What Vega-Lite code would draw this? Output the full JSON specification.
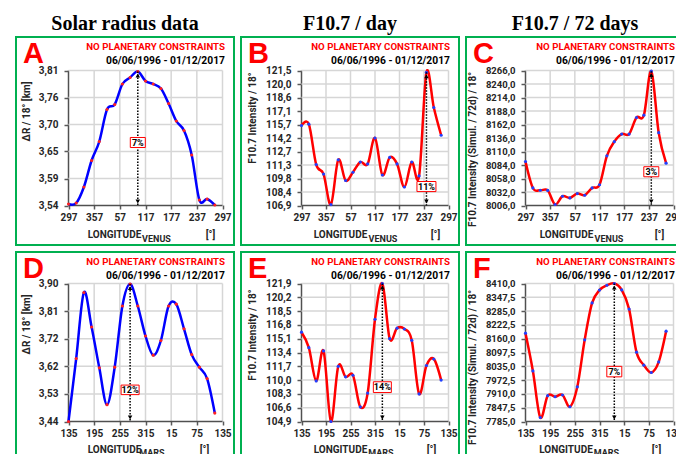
{
"$schema": "https://vega.github.io/schema/vega-lite/v6.json",
"padding": {"left": 15, "top": 14, "right": 0, "bottom": 0},
"background": "white",
"spacing": 5,
"config": {
 "view": {"stroke": "#00b050", "strokeWidth": 2, "fill": "white"},
 "concat": {"spacing": 5},
 "axis": {"labelFont": "Roboto", "labelFontWeight": "bold", "labelFontSize": 10, "labelColor": "#262626", "titleFont": "Roboto", "titleFontWeight": "bold", "titleFontSize": 10, "titleColor": "#262626", "grid": false, "domain": false, "tickColor": "#595959", "tickWidth": 1.5, "tickSize": 4, "labelOverlap": false, "labelFlush": false},
 "axisX": {"labelPadding": 3},
 "axisY": {"labelPadding": 6}
},
"datasets": {
 "A": [{"lon":297,"v":3.543},{"lon":315,"v":3.545},{"lon":333,"v":3.577},{"lon":351,"v":3.63},{"lon":369,"v":3.668},{"lon":387,"v":3.732},{"lon":405,"v":3.742},{"lon":423,"v":3.783},{"lon":441,"v":3.796},{"lon":459,"v":3.808},{"lon":477,"v":3.789},{"lon":495,"v":3.783},{"lon":513,"v":3.774},{"lon":531,"v":3.744},{"lon":549,"v":3.709},{"lon":567,"v":3.69},{"lon":585,"v":3.641},{"lon":603,"v":3.551},{"lon":621,"v":3.553},{"lon":639,"v":3.541}],
 "B": [{"lon":297,"v":115.55},{"lon":315,"v":115.7},{"lon":333,"v":111.33},{"lon":351,"v":110.3},{"lon":369,"v":107.0},{"lon":387,"v":111.84},{"lon":405,"v":109.6},{"lon":423,"v":110.5},{"lon":441,"v":111.6},{"lon":459,"v":111.4},{"lon":477,"v":114.2},{"lon":495,"v":110.2},{"lon":513,"v":112.1},{"lon":531,"v":111.4},{"lon":549,"v":108.9},{"lon":567,"v":111.6},{"lon":585,"v":110.1},{"lon":603,"v":121.3},{"lon":621,"v":117.5},{"lon":639,"v":114.5}],
 "C": [{"lon":297,"v":8090.8},{"lon":315,"v":8039.8},{"lon":333,"v":8035.3},{"lon":351,"v":8035},{"lon":369,"v":8008},{"lon":387,"v":8023.8},{"lon":405,"v":8020.6},{"lon":423,"v":8029},{"lon":441,"v":8025.8},{"lon":459,"v":8039.8},{"lon":477,"v":8046},{"lon":495,"v":8101.7},{"lon":513,"v":8129},{"lon":531,"v":8143.6},{"lon":549,"v":8143.6},{"lon":567,"v":8175.5},{"lon":585,"v":8180},{"lon":603,"v":8264.7},{"lon":621,"v":8146.2},{"lon":639,"v":8087.6}],
 "D": [{"lon":135,"v":3.44},{"lon":153,"v":3.65},{"lon":171,"v":3.87},{"lon":189,"v":3.755},{"lon":207,"v":3.619},{"lon":225,"v":3.496},{"lon":243,"v":3.621},{"lon":261,"v":3.825},{"lon":279,"v":3.898},{"lon":297,"v":3.825},{"lon":315,"v":3.725},{"lon":333,"v":3.661},{"lon":351,"v":3.71},{"lon":369,"v":3.825},{"lon":387,"v":3.831},{"lon":405,"v":3.749},{"lon":423,"v":3.663},{"lon":441,"v":3.621},{"lon":459,"v":3.583},{"lon":477,"v":3.468}],
 "E": [{"lon":135,"v":115.9},{"lon":153,"v":114.0},{"lon":171,"v":109.9},{"lon":189,"v":113.6},{"lon":207,"v":104.9},{"lon":225,"v":111.7},{"lon":243,"v":110.4},{"lon":261,"v":110.6},{"lon":279,"v":106.7},{"lon":297,"v":108.4},{"lon":315,"v":117.5},{"lon":333,"v":121.9},{"lon":351,"v":115.1},{"lon":369,"v":116.4},{"lon":387,"v":116.3},{"lon":405,"v":114.9},{"lon":423,"v":108.3},{"lon":441,"v":111.8},{"lon":459,"v":112.6},{"lon":477,"v":110.0}],
 "F": [{"lon":135,"v":8185},{"lon":153,"v":8014},{"lon":171,"v":7803},{"lon":189,"v":7902},{"lon":207,"v":7897},{"lon":225,"v":7905},{"lon":243,"v":7852},{"lon":261,"v":7942},{"lon":279,"v":8155},{"lon":297,"v":8322},{"lon":315,"v":8380},{"lon":333,"v":8402},{"lon":351,"v":8410},{"lon":369,"v":8381},{"lon":387,"v":8294},{"lon":405,"v":8099},{"lon":423,"v":8040},{"lon":441,"v":8007},{"lon":459,"v":8055},{"lon":477,"v":8194}],
 "annA": [{"lon":459,"peak":3.808,"base":3.54,"pct":"7%","py":3.666}],
 "annB": [{"lon":603,"peak":121.3,"base":106.9,"pct":"11%","py":108.95}],
 "annC": [{"lon":603,"peak":8264.7,"base":8006,"pct":"3%","py":8071}],
 "annD": [{"lon":279,"peak":3.898,"base":3.44,"pct":"12%","py":3.5455}],
 "annE": [{"lon":333,"peak":121.9,"base":104.9,"pct":"14%","py":109.13}],
 "annF": [{"lon":351,"peak":8410,"base":7785,"pct":"7%","py":8011}],
 "gxV": [{"t":297},{"t":357},{"t":417},{"t":477},{"t":537},{"t":597},{"t":657}],
 "gxM": [{"t":135},{"t":195},{"t":255},{"t":315},{"t":375},{"t":435},{"t":495}],
 "gyA": [{"t":3.54},{"t":3.594},{"t":3.648},{"t":3.702},{"t":3.756},{"t":3.81}],
 "gyB": [{"t":106.9},{"t":108.36},{"t":109.82},{"t":111.28},{"t":112.74},{"t":114.2},{"t":115.66},{"t":117.12},{"t":118.58},{"t":120.04},{"t":121.5}],
 "gyC": [{"t":8006},{"t":8032},{"t":8058},{"t":8084},{"t":8110},{"t":8136},{"t":8162},{"t":8188},{"t":8214},{"t":8240},{"t":8266}],
 "gyD": [{"t":3.44},{"t":3.532},{"t":3.624},{"t":3.716},{"t":3.808},{"t":3.9}],
 "gyE": [{"t":104.9},{"t":106.6},{"t":108.3},{"t":110},{"t":111.7},{"t":113.4},{"t":115.1},{"t":116.8},{"t":118.5},{"t":120.2},{"t":121.9}],
 "gyF": [{"t":7785},{"t":7847.5},{"t":7910},{"t":7972.5},{"t":8035},{"t":8097.5},{"t":8160},{"t":8222.5},{"t":8285},{"t":8347.5},{"t":8410}]
},
"hconcat": [
{"title": {"text": "Solar radius data", "font": "Liberation Serif", "fontSize": 20, "fontWeight": "bold", "color": "#000000", "anchor": "middle", "offset": 2},
 "spacing": 5,
 "vconcat": [
 {"title": {"text": "A", "anchor": "start", "dx": 8, "offset": -33, "font": "Liberation Sans", "fontSize": 29, "fontWeight": "bold", "color": "#ff0000"},
  "vconcat": [
  {"width": 218, "height": 208,
   "title": {"text": "NO PLANETARY CONSTRAINTS", "subtitle": "06/06/1996 - 01/12/2017", "anchor": "end", "dx": -9, "offset": -29, "subtitlePadding": 4, "font": "Roboto", "fontSize": 9.7, "fontWeight": "bold", "color": "#ff0000", "subtitleFont": "Roboto", "subtitleFontSize": 10.3, "subtitleFontWeight": "bold", "subtitleColor": "#000000"},
   "resolve": {"axis": {"x": "independent", "y": "independent"}},
   "layer": [
    {"data": {"name": "gxV"}, "mark": {"type": "rule", "strokeWidth": 1.5},
     "encoding": {
      "x": {"field": "t", "type": "quantitative", "scale": {"domain": [297, 657], "range": [52.5, 206.5], "nice": false, "zero": false}, "axis": null},
      "y": {"datum": 3.54, "type": "quantitative", "scale": {"domain": [3.54, 3.81], "range": [168.5, 33.5], "nice": false, "zero": false}, "axis": null},
      "y2": {"datum": 3.81},
      "color": {"condition": {"test": "datum.t == 297", "value": "#505050"}, "value": "#d6d6d6"}}},
    {"data": {"name": "gyA"}, "mark": {"type": "rule", "strokeWidth": 1.5},
     "encoding": {
      "y": {"field": "t", "type": "quantitative", "scale": {"domain": [3.54, 3.81], "range": [168.5, 33.5], "nice": false, "zero": false}, "axis": null},
      "x": {"datum": 297, "type": "quantitative", "scale": {"domain": [297, 657], "range": [52.5, 206.5], "nice": false, "zero": false}, "axis": null},
      "x2": {"datum": 657},
      "color": {"condition": {"test": "datum.t == 3.54", "value": "#505050"}, "value": "#d6d6d6"}}},
    {"data": {"name": "A"}, "mark": {"type": "line", "interpolate": "cardinal", "color": "#0000ff", "strokeWidth": 2.5},
     "encoding": {
      "x": {"field": "lon", "type": "quantitative", "scale": {"domain": [297, 657], "range": [52.5, 206.5], "nice": false, "zero": false},
            "axis": {"orient": "bottom", "offset": -40, "values": [297, 357, 417, 477, 537, 597, 657], "labelExpr": "'' + (datum.value % 360)", "title": "LONGITUDE", "titleX": 98, "titleY": 32.5, "titleBaseline": "alphabetic", "titleAlign": "center"}},
      "y": {"field": "v", "type": "quantitative", "scale": {"domain": [3.54, 3.81], "range": [168.5, 33.5], "nice": false, "zero": false},
            "axis": {"orient": "left", "offset": -52, "values": [3.54, 3.594, 3.648, 3.702, 3.756, 3.81], "labelExpr": "replace(format(datum.value, '.2f'), '.', ',')", "title": "ΔR / 18°  [km]", "titleX": -37, "titleY": 74, "titleAngle": -90, "titleBaseline": "bottom", "titleAlign": "center"}}}},
    {"data": {"name": "A"}, "mark": {"type": "circle", "size": 10, "color": "#ff2020", "opacity": 1},
     "encoding": {
      "x": {"field": "lon", "type": "quantitative", "scale": {"domain": [297, 657], "range": [52.5, 206.5], "nice": false, "zero": false},
            "axis": {"orient": "bottom", "offset": -40, "labels": false, "ticks": false, "title": "VENUS", "titleX": 140, "titleY": 36, "titleFontSize": 9, "titleBaseline": "alphabetic", "titleAlign": "center"}},
      "y": {"field": "v", "type": "quantitative", "scale": {"domain": [3.54, 3.81], "range": [168.5, 33.5], "nice": false, "zero": false}, "axis": null}}},
    {"data": {"name": "annA"}, "mark": {"type": "rule", "strokeDash": [1.5, 1.5], "strokeWidth": 1.5, "color": "#000000"},
     "encoding": {
      "x": {"field": "lon", "type": "quantitative", "scale": {"domain": [297, 657], "range": [52.5, 206.5], "nice": false, "zero": false},
            "axis": {"orient": "bottom", "offset": -40, "labels": false, "ticks": false, "title": "[°]", "titleX": 194, "titleY": 32.5, "titleBaseline": "alphabetic", "titleAlign": "center"}},
      "y": {"field": "peak", "type": "quantitative", "scale": {"domain": [3.54, 3.81], "range": [168.5, 33.5], "nice": false, "zero": false}, "axis": null},
      "y2": {"field": "base"}}},
    {"data": {"name": "annA"}, "mark": {"type": "point", "shape": "triangle-up", "filled": true, "size": 20, "color": "#000000", "opacity": 1, "yOffset": 4},
     "encoding": {
      "x": {"field": "lon", "type": "quantitative", "scale": {"domain": [297, 657], "range": [52.5, 206.5], "nice": false, "zero": false}, "axis": null},
      "y": {"field": "peak", "type": "quantitative", "scale": {"domain": [3.54, 3.81], "range": [168.5, 33.5], "nice": false, "zero": false}, "axis": null}}},
    {"data": {"name": "annA"}, "mark": {"type": "point", "shape": "triangle-down", "filled": true, "size": 20, "color": "#000000", "opacity": 1, "yOffset": -4},
     "encoding": {
      "x": {"field": "lon", "type": "quantitative", "scale": {"domain": [297, 657], "range": [52.5, 206.5], "nice": false, "zero": false}, "axis": null},
      "y": {"field": "base", "type": "quantitative", "scale": {"domain": [3.54, 3.81], "range": [168.5, 33.5], "nice": false, "zero": false}, "axis": null}}},
    {"data": {"name": "annA"}, "mark": {"type": "point", "shape": "M-1,-0.67H1V0.67H-1Z", "size": 225, "filled": true, "fill": "#ffffff", "stroke": "#ff0000", "strokeWidth": 1, "opacity": 1},
     "encoding": {
      "x": {"field": "lon", "type": "quantitative", "scale": {"domain": [297, 657], "range": [52.5, 206.5], "nice": false, "zero": false}, "axis": null},
      "y": {"field": "py", "type": "quantitative", "scale": {"domain": [3.54, 3.81], "range": [168.5, 33.5], "nice": false, "zero": false}, "axis": null}}},
    {"data": {"name": "annA"}, "mark": {"type": "text", "font": "Roboto", "fontWeight": "bold", "fontSize": 9, "color": "#000000", "baseline": "middle", "align": "center"},
     "encoding": {
      "x": {"field": "lon", "type": "quantitative", "scale": {"domain": [297, 657], "range": [52.5, 206.5], "nice": false, "zero": false}, "axis": null},
      "y": {"field": "py", "type": "quantitative", "scale": {"domain": [3.54, 3.81], "range": [168.5, 33.5], "nice": false, "zero": false}, "axis": null},
      "text": {"field": "pct"}}}
   ]}
  ]},
 {"title": {"text": "D", "anchor": "start", "dx": 8, "offset": -33, "font": "Liberation Sans", "fontSize": 29, "fontWeight": "bold", "color": "#ff0000"},
  "vconcat": [
  {"width": 218, "height": 208,
   "title": {"text": "NO PLANETARY CONSTRAINTS", "subtitle": "06/06/1996 - 01/12/2017", "anchor": "end", "dx": -9, "offset": -29, "subtitlePadding": 4, "font": "Roboto", "fontSize": 9.7, "fontWeight": "bold", "color": "#ff0000", "subtitleFont": "Roboto", "subtitleFontSize": 10.3, "subtitleFontWeight": "bold", "subtitleColor": "#000000"},
   "resolve": {"axis": {"x": "independent", "y": "independent"}},
   "layer": [
    {"data": {"name": "gxM"}, "mark": {"type": "rule", "strokeWidth": 1.5},
     "encoding": {
      "x": {"field": "t", "type": "quantitative", "scale": {"domain": [135, 495], "range": [52.5, 206.5], "nice": false, "zero": false}, "axis": null},
      "y": {"datum": 3.44, "type": "quantitative", "scale": {"domain": [3.44, 3.9], "range": [169.5, 31.5], "nice": false, "zero": false}, "axis": null},
      "y2": {"datum": 3.9},
      "color": {"condition": {"test": "datum.t == 135", "value": "#505050"}, "value": "#d6d6d6"}}},
    {"data": {"name": "gyD"}, "mark": {"type": "rule", "strokeWidth": 1.5},
     "encoding": {
      "y": {"field": "t", "type": "quantitative", "scale": {"domain": [3.44, 3.9], "range": [169.5, 31.5], "nice": false, "zero": false}, "axis": null},
      "x": {"datum": 135, "type": "quantitative", "scale": {"domain": [135, 495], "range": [52.5, 206.5], "nice": false, "zero": false}, "axis": null},
      "x2": {"datum": 495},
      "color": {"condition": {"test": "datum.t == 3.44", "value": "#505050"}, "value": "#d6d6d6"}}},
    {"data": {"name": "D"}, "mark": {"type": "line", "interpolate": "cardinal", "color": "#0000ff", "strokeWidth": 2.5},
     "encoding": {
      "x": {"field": "lon", "type": "quantitative", "scale": {"domain": [135, 495], "range": [52.5, 206.5], "nice": false, "zero": false},
            "axis": {"orient": "bottom", "offset": -39, "values": [135, 195, 255, 315, 375, 435, 495], "labelExpr": "'' + (datum.value % 360)", "title": "LONGITUDE", "titleX": 98, "titleY": 31, "titleBaseline": "alphabetic", "titleAlign": "center"}},
      "y": {"field": "v", "type": "quantitative", "scale": {"domain": [3.44, 3.9], "range": [169.5, 31.5], "nice": false, "zero": false},
            "axis": {"orient": "left", "offset": -52, "values": [3.44, 3.532, 3.624, 3.716, 3.808, 3.9], "labelExpr": "replace(format(datum.value, '.2f'), '.', ',')", "title": "ΔR / 18°  [km]", "titleX": -37, "titleY": 72, "titleAngle": -90, "titleBaseline": "bottom", "titleAlign": "center"}}}},
    {"data": {"name": "D"}, "mark": {"type": "circle", "size": 10, "color": "#ff2020", "opacity": 1},
     "encoding": {
      "x": {"field": "lon", "type": "quantitative", "scale": {"domain": [135, 495], "range": [52.5, 206.5], "nice": false, "zero": false},
            "axis": {"orient": "bottom", "offset": -39, "labels": false, "ticks": false, "title": "MARS", "titleX": 135.5, "titleY": 34.5, "titleFontSize": 9, "titleBaseline": "alphabetic", "titleAlign": "center"}},
      "y": {"field": "v", "type": "quantitative", "scale": {"domain": [3.44, 3.9], "range": [169.5, 31.5], "nice": false, "zero": false}, "axis": null}}},
    {"data": {"name": "annD"}, "mark": {"type": "rule", "strokeDash": [1.5, 1.5], "strokeWidth": 1.5, "color": "#000000"},
     "encoding": {
      "x": {"field": "lon", "type": "quantitative", "scale": {"domain": [135, 495], "range": [52.5, 206.5], "nice": false, "zero": false},
            "axis": {"orient": "bottom", "offset": -39, "labels": false, "ticks": false, "title": "[°]", "titleX": 188, "titleY": 31, "titleBaseline": "alphabetic", "titleAlign": "center"}},
      "y": {"field": "peak", "type": "quantitative", "scale": {"domain": [3.44, 3.9], "range": [169.5, 31.5], "nice": false, "zero": false}, "axis": null},
      "y2": {"field": "base"}}},
    {"data": {"name": "annD"}, "mark": {"type": "point", "shape": "triangle-up", "filled": true, "size": 20, "color": "#000000", "opacity": 1, "yOffset": 4},
     "encoding": {
      "x": {"field": "lon", "type": "quantitative", "scale": {"domain": [135, 495], "range": [52.5, 206.5], "nice": false, "zero": false}, "axis": null},
      "y": {"field": "peak", "type": "quantitative", "scale": {"domain": [3.44, 3.9], "range": [169.5, 31.5], "nice": false, "zero": false}, "axis": null}}},
    {"data": {"name": "annD"}, "mark": {"type": "point", "shape": "triangle-down", "filled": true, "size": 20, "color": "#000000", "opacity": 1, "yOffset": -4},
     "encoding": {
      "x": {"field": "lon", "type": "quantitative", "scale": {"domain": [135, 495], "range": [52.5, 206.5], "nice": false, "zero": false}, "axis": null},
      "y": {"field": "base", "type": "quantitative", "scale": {"domain": [3.44, 3.9], "range": [169.5, 31.5], "nice": false, "zero": false}, "axis": null}}},
    {"data": {"name": "annD"}, "mark": {"type": "point", "shape": "M-1,-0.53H1V0.53H-1Z", "size": 324, "filled": true, "fill": "#ffffff", "stroke": "#ff0000", "strokeWidth": 1, "opacity": 1},
     "encoding": {
      "x": {"field": "lon", "type": "quantitative", "scale": {"domain": [135, 495], "range": [52.5, 206.5], "nice": false, "zero": false}, "axis": null},
      "y": {"field": "py", "type": "quantitative", "scale": {"domain": [3.44, 3.9], "range": [169.5, 31.5], "nice": false, "zero": false}, "axis": null}}},
    {"data": {"name": "annD"}, "mark": {"type": "text", "font": "Roboto", "fontWeight": "bold", "fontSize": 9, "color": "#000000", "baseline": "middle", "align": "center"},
     "encoding": {
      "x": {"field": "lon", "type": "quantitative", "scale": {"domain": [135, 495], "range": [52.5, 206.5], "nice": false, "zero": false}, "axis": null},
      "y": {"field": "py", "type": "quantitative", "scale": {"domain": [3.44, 3.9], "range": [169.5, 31.5], "nice": false, "zero": false}, "axis": null},
      "text": {"field": "pct"}}}
   ]}
  ]}
 ]},
{"title": {"text": "F10.7 / day", "font": "Liberation Serif", "fontSize": 20, "fontWeight": "bold", "color": "#000000", "anchor": "middle", "offset": 2},
 "spacing": 5,
 "vconcat": [
 {"title": {"text": "B", "anchor": "start", "dx": 8, "offset": -33, "font": "Liberation Sans", "fontSize": 29, "fontWeight": "bold", "color": "#ff0000"},
  "vconcat": [
  {"width": 218, "height": 208,
   "title": {"text": "NO PLANETARY CONSTRAINTS", "subtitle": "06/06/1996 - 01/12/2017", "anchor": "end", "dx": -9, "offset": -29, "subtitlePadding": 4, "font": "Roboto", "fontSize": 9.7, "fontWeight": "bold", "color": "#ff0000", "subtitleFont": "Roboto", "subtitleFontSize": 10.3, "subtitleFontWeight": "bold", "subtitleColor": "#000000"},
   "resolve": {"axis": {"x": "independent", "y": "independent"}},
   "layer": [
    {"data": {"name": "gxV"}, "mark": {"type": "rule", "strokeWidth": 1.5},
     "encoding": {
      "x": {"field": "t", "type": "quantitative", "scale": {"domain": [297, 657], "range": [60.5, 207.5], "nice": false, "zero": false}, "axis": null},
      "y": {"datum": 106.9, "type": "quantitative", "scale": {"domain": [106.9, 121.5], "range": [168.5, 33.5], "nice": false, "zero": false}, "axis": null},
      "y2": {"datum": 121.5},
      "color": {"condition": {"test": "datum.t == 297", "value": "#505050"}, "value": "#d6d6d6"}}},
    {"data": {"name": "gyB"}, "mark": {"type": "rule", "strokeWidth": 1.5},
     "encoding": {
      "y": {"field": "t", "type": "quantitative", "scale": {"domain": [106.9, 121.5], "range": [168.5, 33.5], "nice": false, "zero": false}, "axis": null},
      "x": {"datum": 297, "type": "quantitative", "scale": {"domain": [297, 657], "range": [60.5, 207.5], "nice": false, "zero": false}, "axis": null},
      "x2": {"datum": 657},
      "color": {"condition": {"test": "datum.t == 106.9", "value": "#505050"}, "value": "#d6d6d6"}}},
    {"data": {"name": "B"}, "mark": {"type": "line", "interpolate": "cardinal", "color": "#ff0000", "strokeWidth": 2.5},
     "encoding": {
      "x": {"field": "lon", "type": "quantitative", "scale": {"domain": [297, 657], "range": [60.5, 207.5], "nice": false, "zero": false},
            "axis": {"orient": "bottom", "offset": -40, "values": [297, 357, 417, 477, 537, 597, 657], "labelExpr": "'' + (datum.value % 360)", "title": "LONGITUDE", "titleX": 99, "titleY": 32.5, "titleBaseline": "alphabetic", "titleAlign": "center"}},
      "y": {"field": "v", "type": "quantitative", "scale": {"domain": [106.9, 121.5], "range": [168.5, 33.5], "nice": false, "zero": false},
            "axis": {"orient": "left", "offset": -60, "values": [106.9, 108.36, 109.82, 111.28, 112.74, 114.2, 115.66, 117.12, 118.58, 120.04, 121.5], "labelExpr": "replace(format(datum.value, '.1f'), '.', ',')", "title": "F10.7 Intensity  / 18°", "titleX": -44, "titleY": 80.5, "titleAngle": -90, "titleBaseline": "bottom", "titleAlign": "center"}}}},
    {"data": {"name": "B"}, "mark": {"type": "circle", "size": 10, "color": "#2040ff", "opacity": 1},
     "encoding": {
      "x": {"field": "lon", "type": "quantitative", "scale": {"domain": [297, 657], "range": [60.5, 207.5], "nice": false, "zero": false},
            "axis": {"orient": "bottom", "offset": -40, "labels": false, "ticks": false, "title": "VENUS", "titleX": 141.5, "titleY": 36, "titleFontSize": 9, "titleBaseline": "alphabetic", "titleAlign": "center"}},
      "y": {"field": "v", "type": "quantitative", "scale": {"domain": [106.9, 121.5], "range": [168.5, 33.5], "nice": false, "zero": false}, "axis": null}}},
    {"data": {"name": "annB"}, "mark": {"type": "rule", "strokeDash": [1.5, 1.5], "strokeWidth": 1.5, "color": "#000000"},
     "encoding": {
      "x": {"field": "lon", "type": "quantitative", "scale": {"domain": [297, 657], "range": [60.5, 207.5], "nice": false, "zero": false},
            "axis": {"orient": "bottom", "offset": -40, "labels": false, "ticks": false, "title": "[°]", "titleX": 194, "titleY": 32.5, "titleBaseline": "alphabetic", "titleAlign": "center"}},
      "y": {"field": "peak", "type": "quantitative", "scale": {"domain": [106.9, 121.5], "range": [168.5, 33.5], "nice": false, "zero": false}, "axis": null},
      "y2": {"field": "base"}}},
    {"data": {"name": "annB"}, "mark": {"type": "point", "shape": "triangle-up", "filled": true, "size": 20, "color": "#000000", "opacity": 1, "yOffset": 4},
     "encoding": {
      "x": {"field": "lon", "type": "quantitative", "scale": {"domain": [297, 657], "range": [60.5, 207.5], "nice": false, "zero": false}, "axis": null},
      "y": {"field": "peak", "type": "quantitative", "scale": {"domain": [106.9, 121.5], "range": [168.5, 33.5], "nice": false, "zero": false}, "axis": null}}},
    {"data": {"name": "annB"}, "mark": {"type": "point", "shape": "triangle-down", "filled": true, "size": 20, "color": "#000000", "opacity": 1, "yOffset": -4},
     "encoding": {
      "x": {"field": "lon", "type": "quantitative", "scale": {"domain": [297, 657], "range": [60.5, 207.5], "nice": false, "zero": false}, "axis": null},
      "y": {"field": "base", "type": "quantitative", "scale": {"domain": [106.9, 121.5], "range": [168.5, 33.5], "nice": false, "zero": false}, "axis": null}}},
    {"data": {"name": "annB"}, "mark": {"type": "point", "shape": "M-1,-0.53H1V0.53H-1Z", "size": 361, "filled": true, "fill": "#ffffff", "stroke": "#ff0000", "strokeWidth": 1, "opacity": 1},
     "encoding": {
      "x": {"field": "lon", "type": "quantitative", "scale": {"domain": [297, 657], "range": [60.5, 207.5], "nice": false, "zero": false}, "axis": null},
      "y": {"field": "py", "type": "quantitative", "scale": {"domain": [106.9, 121.5], "range": [168.5, 33.5], "nice": false, "zero": false}, "axis": null}}},
    {"data": {"name": "annB"}, "mark": {"type": "text", "font": "Roboto", "fontWeight": "bold", "fontSize": 9, "color": "#000000", "baseline": "middle", "align": "center"},
     "encoding": {
      "x": {"field": "lon", "type": "quantitative", "scale": {"domain": [297, 657], "range": [60.5, 207.5], "nice": false, "zero": false}, "axis": null},
      "y": {"field": "py", "type": "quantitative", "scale": {"domain": [106.9, 121.5], "range": [168.5, 33.5], "nice": false, "zero": false}, "axis": null},
      "text": {"field": "pct"}}}
   ]}
  ]},
 {"title": {"text": "E", "anchor": "start", "dx": 8, "offset": -33, "font": "Liberation Sans", "fontSize": 29, "fontWeight": "bold", "color": "#ff0000"},
  "vconcat": [
  {"width": 218, "height": 208,
   "title": {"text": "NO PLANETARY CONSTRAINTS", "subtitle": "06/06/1996 - 01/12/2017", "anchor": "end", "dx": -9, "offset": -29, "subtitlePadding": 4, "font": "Roboto", "fontSize": 9.7, "fontWeight": "bold", "color": "#ff0000", "subtitleFont": "Roboto", "subtitleFontSize": 10.3, "subtitleFontWeight": "bold", "subtitleColor": "#000000"},
   "resolve": {"axis": {"x": "independent", "y": "independent"}},
   "layer": [
    {"data": {"name": "gxM"}, "mark": {"type": "rule", "strokeWidth": 1.5},
     "encoding": {
      "x": {"field": "t", "type": "quantitative", "scale": {"domain": [135, 495], "range": [60.5, 207.5], "nice": false, "zero": false}, "axis": null},
      "y": {"datum": 104.9, "type": "quantitative", "scale": {"domain": [104.9, 121.9], "range": [169.5, 31.5], "nice": false, "zero": false}, "axis": null},
      "y2": {"datum": 121.9},
      "color": {"condition": {"test": "datum.t == 135", "value": "#505050"}, "value": "#d6d6d6"}}},
    {"data": {"name": "gyE"}, "mark": {"type": "rule", "strokeWidth": 1.5},
     "encoding": {
      "y": {"field": "t", "type": "quantitative", "scale": {"domain": [104.9, 121.9], "range": [169.5, 31.5], "nice": false, "zero": false}, "axis": null},
      "x": {"datum": 135, "type": "quantitative", "scale": {"domain": [135, 495], "range": [60.5, 207.5], "nice": false, "zero": false}, "axis": null},
      "x2": {"datum": 495},
      "color": {"condition": {"test": "datum.t == 104.9", "value": "#505050"}, "value": "#d6d6d6"}}},
    {"data": {"name": "E"}, "mark": {"type": "line", "interpolate": "cardinal", "color": "#ff0000", "strokeWidth": 2.5},
     "encoding": {
      "x": {"field": "lon", "type": "quantitative", "scale": {"domain": [135, 495], "range": [60.5, 207.5], "nice": false, "zero": false},
            "axis": {"orient": "bottom", "offset": -39, "values": [135, 195, 255, 315, 375, 435, 495], "labelExpr": "'' + (datum.value % 360)", "title": "LONGITUDE", "titleX": 99, "titleY": 31, "titleBaseline": "alphabetic", "titleAlign": "center"}},
      "y": {"field": "v", "type": "quantitative", "scale": {"domain": [104.9, 121.9], "range": [169.5, 31.5], "nice": false, "zero": false},
            "axis": {"orient": "left", "offset": -60, "values": [104.9, 106.6, 108.3, 110, 111.7, 113.4, 115.1, 116.8, 118.5, 120.2, 121.9], "labelExpr": "replace(format(datum.value, '.1f'), '.', ',')", "title": "F10.7 Intensity  / 18°", "titleX": -44, "titleY": 82.5, "titleAngle": -90, "titleBaseline": "bottom", "titleAlign": "center"}}}},
    {"data": {"name": "E"}, "mark": {"type": "circle", "size": 10, "color": "#2040ff", "opacity": 1},
     "encoding": {
      "x": {"field": "lon", "type": "quantitative", "scale": {"domain": [135, 495], "range": [60.5, 207.5], "nice": false, "zero": false},
            "axis": {"orient": "bottom", "offset": -39, "labels": false, "ticks": false, "title": "MARS", "titleX": 139.5, "titleY": 34.5, "titleFontSize": 9, "titleBaseline": "alphabetic", "titleAlign": "center"}},
      "y": {"field": "v", "type": "quantitative", "scale": {"domain": [104.9, 121.9], "range": [169.5, 31.5], "nice": false, "zero": false}, "axis": null}}},
    {"data": {"name": "annE"}, "mark": {"type": "rule", "strokeDash": [1.5, 1.5], "strokeWidth": 1.5, "color": "#000000"},
     "encoding": {
      "x": {"field": "lon", "type": "quantitative", "scale": {"domain": [135, 495], "range": [60.5, 207.5], "nice": false, "zero": false},
            "axis": {"orient": "bottom", "offset": -39, "labels": false, "ticks": false, "title": "[°]", "titleX": 190, "titleY": 31, "titleBaseline": "alphabetic", "titleAlign": "center"}},
      "y": {"field": "peak", "type": "quantitative", "scale": {"domain": [104.9, 121.9], "range": [169.5, 31.5], "nice": false, "zero": false}, "axis": null},
      "y2": {"field": "base"}}},
    {"data": {"name": "annE"}, "mark": {"type": "point", "shape": "triangle-up", "filled": true, "size": 20, "color": "#000000", "opacity": 1, "yOffset": 4},
     "encoding": {
      "x": {"field": "lon", "type": "quantitative", "scale": {"domain": [135, 495], "range": [60.5, 207.5], "nice": false, "zero": false}, "axis": null},
      "y": {"field": "peak", "type": "quantitative", "scale": {"domain": [104.9, 121.9], "range": [169.5, 31.5], "nice": false, "zero": false}, "axis": null}}},
    {"data": {"name": "annE"}, "mark": {"type": "point", "shape": "triangle-down", "filled": true, "size": 20, "color": "#000000", "opacity": 1, "yOffset": -4},
     "encoding": {
      "x": {"field": "lon", "type": "quantitative", "scale": {"domain": [135, 495], "range": [60.5, 207.5], "nice": false, "zero": false}, "axis": null},
      "y": {"field": "base", "type": "quantitative", "scale": {"domain": [104.9, 121.9], "range": [169.5, 31.5], "nice": false, "zero": false}, "axis": null}}},
    {"data": {"name": "annE"}, "mark": {"type": "point", "shape": "M-1,-0.6H1V0.6H-1Z", "size": 324, "filled": true, "fill": "#ffffff", "stroke": "#ff0000", "strokeWidth": 1, "opacity": 1},
     "encoding": {
      "x": {"field": "lon", "type": "quantitative", "scale": {"domain": [135, 495], "range": [60.5, 207.5], "nice": false, "zero": false}, "axis": null},
      "y": {"field": "py", "type": "quantitative", "scale": {"domain": [104.9, 121.9], "range": [169.5, 31.5], "nice": false, "zero": false}, "axis": null}}},
    {"data": {"name": "annE"}, "mark": {"type": "text", "font": "Roboto", "fontWeight": "bold", "fontSize": 9, "color": "#000000", "baseline": "middle", "align": "center"},
     "encoding": {
      "x": {"field": "lon", "type": "quantitative", "scale": {"domain": [135, 495], "range": [60.5, 207.5], "nice": false, "zero": false}, "axis": null},
      "y": {"field": "py", "type": "quantitative", "scale": {"domain": [104.9, 121.9], "range": [169.5, 31.5], "nice": false, "zero": false}, "axis": null},
      "text": {"field": "pct"}}}
   ]}
  ]}
 ]},
{"title": {"text": "F10.7 / 72 days", "font": "Liberation Serif", "fontSize": 20, "fontWeight": "bold", "color": "#000000", "anchor": "middle", "offset": 2},
 "spacing": 5,
 "vconcat": [
 {"title": {"text": "C", "anchor": "start", "dx": 8, "offset": -33, "font": "Liberation Sans", "fontSize": 29, "fontWeight": "bold", "color": "#ff0000"},
  "vconcat": [
  {"width": 218, "height": 208,
   "title": {"text": "NO PLANETARY CONSTRAINTS", "subtitle": "06/06/1996 - 01/12/2017", "anchor": "end", "dx": -9, "offset": -29, "subtitlePadding": 4, "font": "Roboto", "fontSize": 9.7, "fontWeight": "bold", "color": "#ff0000", "subtitleFont": "Roboto", "subtitleFontSize": 10.3, "subtitleFontWeight": "bold", "subtitleColor": "#000000"},
   "resolve": {"axis": {"x": "independent", "y": "independent"}},
   "layer": [
    {"data": {"name": "gxV"}, "mark": {"type": "rule", "strokeWidth": 1.5},
     "encoding": {
      "x": {"field": "t", "type": "quantitative", "scale": {"domain": [297, 657], "range": [59.5, 207.5], "nice": false, "zero": false}, "axis": null},
      "y": {"datum": 8006, "type": "quantitative", "scale": {"domain": [8006, 8266], "range": [168.5, 33.5], "nice": false, "zero": false}, "axis": null},
      "y2": {"datum": 8266},
      "color": {"condition": {"test": "datum.t == 297", "value": "#505050"}, "value": "#d6d6d6"}}},
    {"data": {"name": "gyC"}, "mark": {"type": "rule", "strokeWidth": 1.5},
     "encoding": {
      "y": {"field": "t", "type": "quantitative", "scale": {"domain": [8006, 8266], "range": [168.5, 33.5], "nice": false, "zero": false}, "axis": null},
      "x": {"datum": 297, "type": "quantitative", "scale": {"domain": [297, 657], "range": [59.5, 207.5], "nice": false, "zero": false}, "axis": null},
      "x2": {"datum": 657},
      "color": {"condition": {"test": "datum.t == 8006", "value": "#505050"}, "value": "#d6d6d6"}}},
    {"data": {"name": "C"}, "mark": {"type": "line", "interpolate": "cardinal", "color": "#ff0000", "strokeWidth": 2.5},
     "encoding": {
      "x": {"field": "lon", "type": "quantitative", "scale": {"domain": [297, 657], "range": [59.5, 207.5], "nice": false, "zero": false},
            "axis": {"orient": "bottom", "offset": -40, "values": [297, 357, 417, 477, 537, 597, 657], "labelExpr": "'' + (datum.value % 360)", "title": "LONGITUDE", "titleX": 100, "titleY": 32.5, "titleBaseline": "alphabetic", "titleAlign": "center"}},
      "y": {"field": "v", "type": "quantitative", "scale": {"domain": [8006, 8266], "range": [168.5, 33.5], "nice": false, "zero": false},
            "axis": {"orient": "left", "offset": -59, "labelFontSize": 9.5, "values": [8006, 8032, 8058, 8084, 8110, 8136, 8162, 8188, 8214, 8240, 8266], "labelExpr": "replace(format(datum.value, '.1f'), '.', ',')", "title": "F10.7 Intensity  (Simul. / 72d) / 18°", "titleX": -48, "titleY": 112, "titleAngle": -90, "titleBaseline": "bottom", "titleAlign": "center"}}}},
    {"data": {"name": "C"}, "mark": {"type": "circle", "size": 10, "color": "#2040ff", "opacity": 1},
     "encoding": {
      "x": {"field": "lon", "type": "quantitative", "scale": {"domain": [297, 657], "range": [59.5, 207.5], "nice": false, "zero": false},
            "axis": {"orient": "bottom", "offset": -40, "labels": false, "ticks": false, "title": "VENUS", "titleX": 142.5, "titleY": 36, "titleFontSize": 9, "titleBaseline": "alphabetic", "titleAlign": "center"}},
      "y": {"field": "v", "type": "quantitative", "scale": {"domain": [8006, 8266], "range": [168.5, 33.5], "nice": false, "zero": false}, "axis": null}}},
    {"data": {"name": "annC"}, "mark": {"type": "rule", "strokeDash": [1.5, 1.5], "strokeWidth": 1.5, "color": "#000000"},
     "encoding": {
      "x": {"field": "lon", "type": "quantitative", "scale": {"domain": [297, 657], "range": [59.5, 207.5], "nice": false, "zero": false},
            "axis": {"orient": "bottom", "offset": -40, "labels": false, "ticks": false, "title": "[°]", "titleX": 193, "titleY": 32.5, "titleBaseline": "alphabetic", "titleAlign": "center"}},
      "y": {"field": "peak", "type": "quantitative", "scale": {"domain": [8006, 8266], "range": [168.5, 33.5], "nice": false, "zero": false}, "axis": null},
      "y2": {"field": "base"}}},
    {"data": {"name": "annC"}, "mark": {"type": "point", "shape": "triangle-up", "filled": true, "size": 20, "color": "#000000", "opacity": 1, "yOffset": 4},
     "encoding": {
      "x": {"field": "lon", "type": "quantitative", "scale": {"domain": [297, 657], "range": [59.5, 207.5], "nice": false, "zero": false}, "axis": null},
      "y": {"field": "peak", "type": "quantitative", "scale": {"domain": [8006, 8266], "range": [168.5, 33.5], "nice": false, "zero": false}, "axis": null}}},
    {"data": {"name": "annC"}, "mark": {"type": "point", "shape": "triangle-down", "filled": true, "size": 20, "color": "#000000", "opacity": 1, "yOffset": -4},
     "encoding": {
      "x": {"field": "lon", "type": "quantitative", "scale": {"domain": [297, 657], "range": [59.5, 207.5], "nice": false, "zero": false}, "axis": null},
      "y": {"field": "base", "type": "quantitative", "scale": {"domain": [8006, 8266], "range": [168.5, 33.5], "nice": false, "zero": false}, "axis": null}}},
    {"data": {"name": "annC"}, "mark": {"type": "point", "shape": "M-1,-0.67H1V0.67H-1Z", "size": 225, "filled": true, "fill": "#ffffff", "stroke": "#ff0000", "strokeWidth": 1, "opacity": 1},
     "encoding": {
      "x": {"field": "lon", "type": "quantitative", "scale": {"domain": [297, 657], "range": [59.5, 207.5], "nice": false, "zero": false}, "axis": null},
      "y": {"field": "py", "type": "quantitative", "scale": {"domain": [8006, 8266], "range": [168.5, 33.5], "nice": false, "zero": false}, "axis": null}}},
    {"data": {"name": "annC"}, "mark": {"type": "text", "font": "Roboto", "fontWeight": "bold", "fontSize": 9, "color": "#000000", "baseline": "middle", "align": "center"},
     "encoding": {
      "x": {"field": "lon", "type": "quantitative", "scale": {"domain": [297, 657], "range": [59.5, 207.5], "nice": false, "zero": false}, "axis": null},
      "y": {"field": "py", "type": "quantitative", "scale": {"domain": [8006, 8266], "range": [168.5, 33.5], "nice": false, "zero": false}, "axis": null},
      "text": {"field": "pct"}}}
   ]}
  ]},
 {"title": {"text": "F", "anchor": "start", "dx": 8, "offset": -33, "font": "Liberation Sans", "fontSize": 29, "fontWeight": "bold", "color": "#ff0000"},
  "vconcat": [
  {"width": 218, "height": 208,
   "title": {"text": "NO PLANETARY CONSTRAINTS", "subtitle": "06/06/1996 - 01/12/2017", "anchor": "end", "dx": -9, "offset": -29, "subtitlePadding": 4, "font": "Roboto", "fontSize": 9.7, "fontWeight": "bold", "color": "#ff0000", "subtitleFont": "Roboto", "subtitleFontSize": 10.3, "subtitleFontWeight": "bold", "subtitleColor": "#000000"},
   "resolve": {"axis": {"x": "independent", "y": "independent"}},
   "layer": [
    {"data": {"name": "gxM"}, "mark": {"type": "rule", "strokeWidth": 1.5},
     "encoding": {
      "x": {"field": "t", "type": "quantitative", "scale": {"domain": [135, 495], "range": [59.5, 207.5], "nice": false, "zero": false}, "axis": null},
      "y": {"datum": 7785, "type": "quantitative", "scale": {"domain": [7785, 8410], "range": [169.5, 31.5], "nice": false, "zero": false}, "axis": null},
      "y2": {"datum": 8410},
      "color": {"condition": {"test": "datum.t == 135", "value": "#505050"}, "value": "#d6d6d6"}}},
    {"data": {"name": "gyF"}, "mark": {"type": "rule", "strokeWidth": 1.5},
     "encoding": {
      "y": {"field": "t", "type": "quantitative", "scale": {"domain": [7785, 8410], "range": [169.5, 31.5], "nice": false, "zero": false}, "axis": null},
      "x": {"datum": 135, "type": "quantitative", "scale": {"domain": [135, 495], "range": [59.5, 207.5], "nice": false, "zero": false}, "axis": null},
      "x2": {"datum": 495},
      "color": {"condition": {"test": "datum.t == 7785", "value": "#505050"}, "value": "#d6d6d6"}}},
    {"data": {"name": "F"}, "mark": {"type": "line", "interpolate": "cardinal", "color": "#ff0000", "strokeWidth": 2.5},
     "encoding": {
      "x": {"field": "lon", "type": "quantitative", "scale": {"domain": [135, 495], "range": [59.5, 207.5], "nice": false, "zero": false},
            "axis": {"orient": "bottom", "offset": -39, "values": [135, 195, 255, 315, 375, 435, 495], "labelExpr": "'' + (datum.value % 360)", "title": "LONGITUDE", "titleX": 99.5, "titleY": 31, "titleBaseline": "alphabetic", "titleAlign": "center"}},
      "y": {"field": "v", "type": "quantitative", "scale": {"domain": [7785, 8410], "range": [169.5, 31.5], "nice": false, "zero": false},
            "axis": {"orient": "left", "offset": -59, "labelFontSize": 9.5, "values": [7785, 7847.5, 7910, 7972.5, 8035, 8097.5, 8160, 8222.5, 8285, 8347.5, 8410], "labelExpr": "replace(format(datum.value, '.1f'), '.', ',')", "title": "F10.7 Intensity  (Simul. / 72d) / 18°", "titleX": -48, "titleY": 115, "titleAngle": -90, "titleBaseline": "bottom", "titleAlign": "center"}}}},
    {"data": {"name": "F"}, "mark": {"type": "circle", "size": 10, "color": "#2040ff", "opacity": 1},
     "encoding": {
      "x": {"field": "lon", "type": "quantitative", "scale": {"domain": [135, 495], "range": [59.5, 207.5], "nice": false, "zero": false},
            "axis": {"orient": "bottom", "offset": -39, "labels": false, "ticks": false, "title": "MARS", "titleX": 140, "titleY": 34.5, "titleFontSize": 9, "titleBaseline": "alphabetic", "titleAlign": "center"}},
      "y": {"field": "v", "type": "quantitative", "scale": {"domain": [7785, 8410], "range": [169.5, 31.5], "nice": false, "zero": false}, "axis": null}}},
    {"data": {"name": "annF"}, "mark": {"type": "rule", "strokeDash": [1.5, 1.5], "strokeWidth": 1.5, "color": "#000000"},
     "encoding": {
      "x": {"field": "lon", "type": "quantitative", "scale": {"domain": [135, 495], "range": [59.5, 207.5], "nice": false, "zero": false},
            "axis": {"orient": "bottom", "offset": -39, "labels": false, "ticks": false, "title": "[°]", "titleX": 190, "titleY": 31, "titleBaseline": "alphabetic", "titleAlign": "center"}},
      "y": {"field": "peak", "type": "quantitative", "scale": {"domain": [7785, 8410], "range": [169.5, 31.5], "nice": false, "zero": false}, "axis": null},
      "y2": {"field": "base"}}},
    {"data": {"name": "annF"}, "mark": {"type": "point", "shape": "triangle-up", "filled": true, "size": 20, "color": "#000000", "opacity": 1, "yOffset": 4},
     "encoding": {
      "x": {"field": "lon", "type": "quantitative", "scale": {"domain": [135, 495], "range": [59.5, 207.5], "nice": false, "zero": false}, "axis": null},
      "y": {"field": "peak", "type": "quantitative", "scale": {"domain": [7785, 8410], "range": [169.5, 31.5], "nice": false, "zero": false}, "axis": null}}},
    {"data": {"name": "annF"}, "mark": {"type": "point", "shape": "triangle-down", "filled": true, "size": 20, "color": "#000000", "opacity": 1, "yOffset": -4},
     "encoding": {
      "x": {"field": "lon", "type": "quantitative", "scale": {"domain": [135, 495], "range": [59.5, 207.5], "nice": false, "zero": false}, "axis": null},
      "y": {"field": "base", "type": "quantitative", "scale": {"domain": [7785, 8410], "range": [169.5, 31.5], "nice": false, "zero": false}, "axis": null}}},
    {"data": {"name": "annF"}, "mark": {"type": "point", "shape": "M-1,-0.7H1V0.7H-1Z", "size": 225, "filled": true, "fill": "#ffffff", "stroke": "#ff0000", "strokeWidth": 1, "opacity": 1},
     "encoding": {
      "x": {"field": "lon", "type": "quantitative", "scale": {"domain": [135, 495], "range": [59.5, 207.5], "nice": false, "zero": false}, "axis": null},
      "y": {"field": "py", "type": "quantitative", "scale": {"domain": [7785, 8410], "range": [169.5, 31.5], "nice": false, "zero": false}, "axis": null}}},
    {"data": {"name": "annF"}, "mark": {"type": "text", "font": "Roboto", "fontWeight": "bold", "fontSize": 9, "color": "#000000", "baseline": "middle", "align": "center"},
     "encoding": {
      "x": {"field": "lon", "type": "quantitative", "scale": {"domain": [135, 495], "range": [59.5, 207.5], "nice": false, "zero": false}, "axis": null},
      "y": {"field": "py", "type": "quantitative", "scale": {"domain": [7785, 8410], "range": [169.5, 31.5], "nice": false, "zero": false}, "axis": null},
      "text": {"field": "pct"}}}
   ]}
  ]}
 ]}
]
}
